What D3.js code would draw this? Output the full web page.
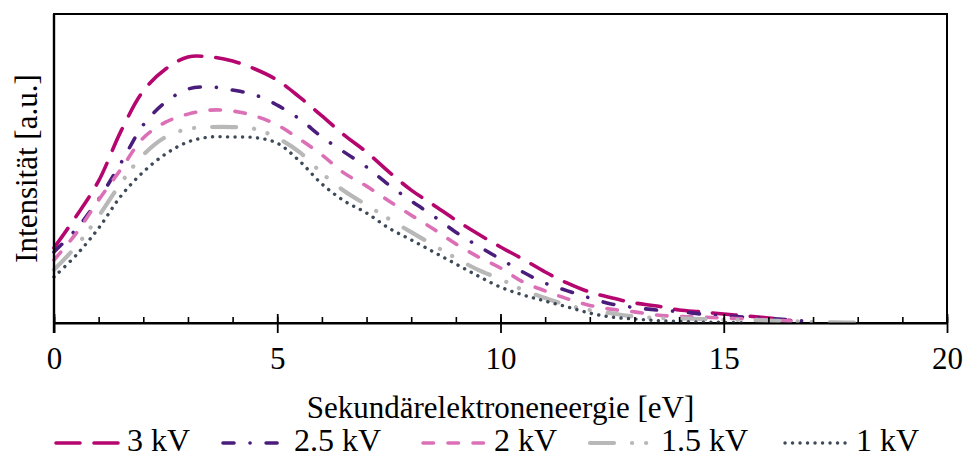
<!DOCTYPE html>
<html>
<head>
<meta charset="utf-8">
<script src="https://cdn.jsdelivr.net/npm/d3@7"></script>
<style>
  html, body { margin: 0; padding: 0; background: #fff; }
  svg { display: block; }
  text { font-family: "Liberation Serif", "Times New Roman", serif; fill: #000; }
</style>
</head>
<body>
<svg id="chart" width="965" height="458"></svg>
<script>
// Secondary electron energy grid (eV)
const energies = [0, 0.5, 1, 1.5, 2, 2.5, 3, 3.5, 4, 4.5, 5, 5.5, 6, 6.5, 7, 7.5, 8, 8.5, 9, 9.5,
  10, 10.5, 11, 11.5, 12, 12.5, 13, 13.5, 14, 14.5, 15, 15.5, 16, 16.5, 17, 17.5, 18];

// Intensity (a.u.) per acceleration voltage
const kV3 = [24.3, 34.6, 46.0, 62.1, 75.1, 82.2, 86.1, 86.1, 84.8, 82.2, 78.6, 73.1, 67.0, 60.8, 55.3,
  48.9, 43.0, 38.2, 33.3, 28.8, 24.6, 20.7, 16.5, 12.9, 10.0, 8.1, 6.5, 5.5, 4.2, 3.6, 2.9, 2.3, 1.6, 0.8];
const kV2_5 = [23.0, 30.4, 40.1, 51.8, 64.1, 71.5, 75.7, 76.4, 75.4, 73.8, 70.5, 66.0, 60.2, 55.3, 50.5,
  44.7, 39.5, 34.6, 29.4, 24.9, 20.7, 16.5, 12.9, 10.4, 8.1, 6.1, 5.0, 4.2, 3.7, 2.9, 2.3, 1.9, 1.5, 1.0, 0.4];
const kV2 = [20.4, 29.1, 39.8, 49.8, 59.9, 65.0, 67.6, 68.9, 68.6, 67.0, 64.1, 59.5, 54.4, 48.5, 44.3,
  39.5, 34.9, 30.4, 25.6, 21.4, 17.8, 13.3, 10.4, 7.8, 5.7, 4.4, 3.6, 2.6, 2.1, 1.9, 1.6, 1.3, 1.0, 0.6];
const kV1_5 = [17.2, 24.9, 34.6, 45.3, 54.4, 60.2, 62.8, 63.4, 63.4, 62.8, 59.9, 55.3, 48.5, 42.7, 38.2,
  33.7, 29.4, 25.2, 21.0, 17.2, 14.2, 10.7, 8.1, 5.8, 4.2, 3.1, 2.1, 1.6, 1.5, 1.3, 1.0, 1.0, 0.8, 0.6, 0.3, 0.2, 0.1];
const kV1 = [14.9, 22.0, 30.7, 41.1, 48.9, 54.7, 58.6, 60.2, 60.2, 60.0, 58.2, 52.4, 45.0, 39.5, 35.6,
  30.7, 26.9, 23.0, 19.1, 15.2, 11.6, 9.1, 7.1, 5.2, 3.2, 1.9, 1.3, 0.8, 0.5, 0.3, 0.2, 0.1];

const seriesNames = ["3 kV", "2.5 kV", "2 kV", "1.5 kV", "1 kV"];
const seriesValues = [kV3, kV2_5, kV2, kV1_5, kV1];

const xTicks = [0, 5, 10, 15, 20];
const xMinorTicks = d3.range(0, 21, 1);
const xTitle = "Sekundärelektroneneergie [eV]";
const yTitle = "Intensität [a.u.]";

// Line styles per series
const styles = [
  { color: "#b5066f", width: 3.6, dash: "24 14" },
  { color: "#4a1d7c", width: 3.6, dash: "11 16 0.1 16" },
  { color: "#dc70b6", width: 3.6, dash: "10.5 14.5" },
  { color: "#b8b8b8", width: 4.2, dash: "24 18 0.1 14 0.1 18" },
  { color: "#3f4a59", width: 3.4, dash: "0.1 7.4" }
];

const svg = d3.select("#chart");
const plotLeft = 54, plotRight = 947, plotTop = 14, plotBottom = 323;

const x = d3.scaleLinear().domain([0, 20]).range([plotLeft, plotRight]);
const y = d3.scaleLinear().domain([0, 100]).range([plotBottom, plotTop]);

// Plot frame (top and right edges)
svg.append("rect")
  .attr("x", plotLeft).attr("y", plotTop)
  .attr("width", plotRight - plotLeft).attr("height", plotBottom - plotTop)
  .attr("fill", "none").attr("stroke", "#000").attr("stroke-width", 2);

// Series curves
const line = d3.line()
  .x((d, i) => x(energies[i]))
  .y(d => y(d))
  .curve(d3.curveCatmullRom.alpha(0.5));

const g = svg.append("g");
seriesValues.forEach((vals, k) => {
  g.append("path")
    .datum(vals)
    .attr("d", line)
    .attr("fill", "none")
    .attr("stroke", styles[k].color)
    .attr("stroke-width", styles[k].width)
    .attr("stroke-dasharray", styles[k].dash)
    .attr("stroke-linecap", "round")
    .attr("stroke-linejoin", "round");
});

// Minor ticks (inside, pointing up)
const minorAxis = d3.axisTop(x).tickValues(xMinorTicks).tickSize(6).tickFormat("");
svg.append("g")
  .attr("transform", `translate(0,${plotBottom})`)
  .call(minorAxis)
  .call(s => s.select(".domain").remove())
  .call(s => s.selectAll("line").attr("stroke", "#000").attr("stroke-width", 1.6));

// Major ticks crossing the axis, with labels
const majorAxis = d3.axisBottom(x).tickValues(xTicks).tickSize(10).tickSizeOuter(0).tickPadding(14)
  .tickFormat(d3.format("d"));
const ax = svg.append("g")
  .attr("transform", `translate(0,${plotBottom})`)
  .call(majorAxis);
ax.select(".domain").attr("stroke", "#000").attr("stroke-width", 2.2);
ax.selectAll(".tick line").attr("stroke", "#000").attr("stroke-width", 1.8).attr("y1", -9);
ax.selectAll(".tick text")
  .attr("font-family", "Liberation Serif")
  .attr("font-size", 31)
  .attr("fill", "#000");

// Left axis line
svg.append("line")
  .attr("x1", plotLeft).attr("x2", plotLeft)
  .attr("y1", plotTop).attr("y2", plotBottom + 10)
  .attr("stroke", "#000").attr("stroke-width", 2.4);

// Axis titles
svg.append("text")
  .attr("x", (plotLeft + plotRight) / 2).attr("y", 418)
  .attr("text-anchor", "middle")
  .attr("font-size", 31)
  .text(xTitle);

svg.append("text")
  .attr("transform", `translate(37,${(plotTop + plotBottom) / 2}) rotate(-90)`)
  .attr("text-anchor", "middle")
  .attr("font-size", 31)
  .text(yTitle);

// Legend
const legendSymbolX = [54, 221, 421, 588, 783];
const legendY = 443;
const legend = svg.append("g");
seriesNames.forEach((name, k) => {
  const x0 = legendSymbolX[k];
  legend.append("line")
    .attr("x1", x0 + 2).attr("x2", x0 + 68)
    .attr("y1", legendY).attr("y2", legendY)
    .attr("stroke", styles[k].color)
    .attr("stroke-width", styles[k].width)
    .attr("stroke-dasharray", styles[k].dash)
    .attr("stroke-linecap", "round");
  legend.append("text")
    .attr("x", x0 + 73).attr("y", 451)
    .attr("font-size", 32)
    .text(name);
});
</script>
</body>
</html>
